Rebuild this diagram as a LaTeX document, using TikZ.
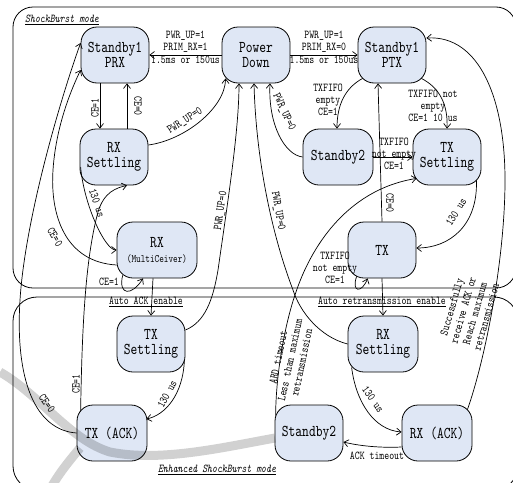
\documentclass[tikz,border=0pt]{standalone}
\usepackage{fontspec}
\usetikzlibrary{arrows.meta,calc}
\newfontfamily\simfont{lmmono10-regular.otf}[FakeStretch=0.78, ItalicFont=lmmono10-italic.otf]
\definecolor{nodefill}{RGB}{223,231,245}
\newcommand{\nfont}{\simfont\fontsize{16.5}{15}\selectfont}
\newcommand{\lfont}{\simfont\fontsize{12}{12}\selectfont}
\newcommand{\sfontx}{\simfont\fontsize{11.3}{12}\selectfont}
\tikzset{
  st/.style={draw, line width=0.8pt, fill=nodefill, rounded corners=16pt, minimum width=68pt, minimum height=56pt, align=center, font=\nfont, inner sep=0pt},
  conn/.style={draw, line width=0.7pt, -{Straight Barb[length=4.5pt,width=7pt]}},
  lbl/.style={font=\lfont, align=center, inner sep=1pt},
  frm/.style={draw, line width=0.8pt, rounded corners=20pt},
}
\begin{document}
\begin{tikzpicture}[x=1pt,y=-1pt]
\useasboundingbox (0,0) rectangle (513,482);
\clip (0,0) rectangle (513,482);
% frames
\draw[frm] (13,7) rectangle (516,288);
\draw[frm, rounded corners=24pt] (13,297) rectangle (518,490);
\node[lbl, font=\lfont\itshape, anchor=west] (sbl) at (24,20) {\underline{ShockBurst mode}};
\node[lbl, font=\lfont\itshape] (esbl) at (217,470) {\underline{Enhanced ShockBurst mode}};
\node[lbl] (aack) at (146,302) {\underline{Auto ACK enable}};
\node[lbl] (aret) at (382,302) {\underline{Auto retransmission enable}};
% states
\node[st] (sprx) at (115,55) {Standby1\\PRX};
\node[st] (pd) at (256,55) {Power\\Down};
\node[st] (sptx) at (392,55) {Standby1\\PTX};
\node[st] (rxs) at (114,157) {RX\\Settling};
\node[st, minimum width=70pt] (sb2a) at (338,157) {Standby2};
\node[st] (txsa) at (447,157) {TX\\Settling};
\node[st, minimum width=80pt] (rxm) at (157,250) {RX\\{\sfontx(MultiCeiver)}};
\node[st] (txa) at (382,250) {TX};
\node[st] (txsb) at (151,344) {TX\\Settling};
\node[st, minimum width=70pt] (txack) at (112,433) {TX (ACK)};
\node[st, minimum width=70pt] (rxsb) at (383,344) {RX\\Settling};
\node[st] (sb2b) at (309,433) {Standby2};
\node[st, minimum width=70pt] (rxack) at (437,433) {RX (ACK)};
% connectors
\draw[conn] (pd.west) -- (sprx.east)
  node[lbl, midway, above=1pt] (l1) {PWR\_UP=1\\PRIM\_RX=1}
  node[lbl, midway, below=0pt] (l2) {1.5ms or 150us};
\draw[conn] (pd.east) -- (sptx.west)
  node[lbl, midway, above=1pt] (l3) {PWR\_UP=1\\PRIM\_RX=0}
  node[lbl, midway, below=0pt] (l4) {1.5ms or 150us};
\draw[conn] ($(sprx.south)+(-15,0)$) -- ($(rxs.north)+(-14,0)$);
\draw[conn] ($(rxs.north)+(13,0)$) -- ($(sprx.south)+(12,0)$);
\draw[conn] ($(rxs.east)+(0,-12)$) .. controls (185,140) and (225,108) .. ($(pd.south west)+(4,-5)$);
\draw[conn] ($(rxs.west)+(1,10)$) .. controls (84,205) and (105,250) .. (rxm.west);
\draw[conn] ($(rxm.west)+(0,15)$) .. controls (65,262) and (50,215) .. (53,170) .. controls (56,125) and (72,88) .. ($(sprx.west)+(0,15)$);
\draw[conn] (txack.west) .. controls (35,430) and (15,380) .. (20,300) .. controls (25,220) and (60,100) .. ($(sprx.west)+(0,-12)$);
\draw[conn] ($(txack.north west)+(4,7)$) .. controls (82,330) and (85,260) .. (98,212) .. controls (104,192) and (116,188) .. ($(rxs.south)+(13,0)$);
\draw[conn] ($(rxm.south west)+(6,-3)$) .. controls (118,296) and (132,296) .. ($(rxm.south)+(-14,0)$);
\draw[conn] ($(rxm.south)+(-4,0)$) -- (txsb.north);
\draw[conn] ($(txsb.east)+(0,-14)$) .. controls (205,322) and (213,300) .. (218,270) .. controls (228,200) and (239,130) .. ($(pd.south)+(-17,0)$);
\draw[conn] ($(txsb.east)+(-1,16)$) .. controls (183,395) and (165,415) .. ($(txack.east)+(-1,-14)$);
\draw[conn] (rxsb.west) .. controls (320,337) and (300,312) .. (293,290) .. controls (272,235) and (256,160) .. ($(pd.south)+(-2,0)$);
\draw[conn] (sb2a.west) .. controls (285,155) and (268,125) .. ($(pd.south)+(14,0)$);
\draw[conn] ($(sptx.south west)+(5,-5)$) .. controls (345,88) and (337,105) .. ($(sb2a.north)+(-1,0)$);
\draw[conn] ($(sptx.south east)+(-5,-5)$) .. controls (440,88) and (448,105) .. (txsa.north);
\draw[conn] (sb2a.east) -- (txsa.west);
\draw[conn] (txa.north) -- ($(sptx.south)+(-14,0)$);
\draw[conn] ($(txsa.south east)+(-5,-5)$) .. controls (478,225) and (450,248) .. ($(txa.east)+(0,-2)$);
\draw[conn] ($(txa.south west)+(9,-2)$) .. controls (351,293) and (362,293) .. ($(txa.south west)+(20,0)$);
\draw[conn] (txa.south) -- (rxsb.north);
\draw[conn] ($(sb2b.north west)+(1,11)$) .. controls (276,370) and (286,320) .. (296,292) .. controls (310,250) and (345,190) .. ($(txsa.south west)+(4,-7)$);
\draw[conn] ($(rxsb.south west)+(4,-5)$) .. controls (356,402) and (374,430) .. ($(rxack.west)+(0,-1)$);
\draw[conn] ($(rxack.west)+(0,14)$) .. controls (380,448) and (360,446) .. ($(sb2b.east)+(0,9)$);
\draw[conn] ($(rxack.north east)+(-5,5)$) .. controls (485,360) and (505,260) .. (505,180) .. controls (505,100) and (480,35) .. ($(sptx.east)+(0,-17)$);
% labels
\node[lbl, rotate=90] (l5) at (95,108) {CE=1};
\node[lbl, rotate=-90] (l6) at (138,106) {CE=0};
\node[lbl, rotate=33] (l7) at (185,121) {PWR\_UP=0};
\node[lbl, rotate=-72] (l8) at (97,203) {130 us};
\node[lbl, rotate=-60] (l9) at (55,237) {CE=0};
\node[lbl, rotate=-55] (l10) at (47,403) {CE=0};
\node[lbl, rotate=90] (l11) at (76,384) {CE=1};
\node[lbl] (l12) at (109,282) {CE=1};
\node[lbl, rotate=82] (l13) at (221,211) {PWR\_UP=0};
\node[lbl, rotate=62] (l14) at (167,394) {130 us};
\node[lbl, rotate=-80] (l15) at (278,211) {PWR\_UP=0};
\node[lbl, rotate=-65] (l16) at (284,112) {PWR\_UP=0};
\node[lbl] (l17) at (328,100) {TXFIFO\\empty\\CE=1};
\node[lbl] (l18) at (433,106) {TXFIFO not\\empty\\CE=1 10 us};
\node[lbl] (l19) at (394,154) {TXFIFO\\not empty\\CE=1};
\node[lbl, rotate=-90] (l20) at (390,203) {CE=0};
\node[lbl, rotate=58] (l21) at (456,212) {130 us};
\node[lbl] (l22) at (335,268) {TXFIFO\\not empty\\CE=1};
\node[lbl, rotate=78] (l23) at (290,360) {ARD timeout\\Less than maximum\\retransmission};
\node[lbl, rotate=-55] (l24) at (373,399) {130 us};
\node[lbl] (l25) at (377,456) {ACK timeout};
\node[lbl, rotate=74] (l26) at (469,312) {Successfully\\receive ACK or\\Reach maximum\\retransmission};
% watermark band
\draw[line width=9pt, black, opacity=0.18] (0,372) .. controls (40,395) and (70,440) .. (110,452) .. controls (160,462) and (220,448) .. (275,438);
\draw[line width=9pt, black, opacity=0.18] (80,448) .. controls (70,460) and (60,472) .. (52,486);
\end{tikzpicture}
\end{document}
